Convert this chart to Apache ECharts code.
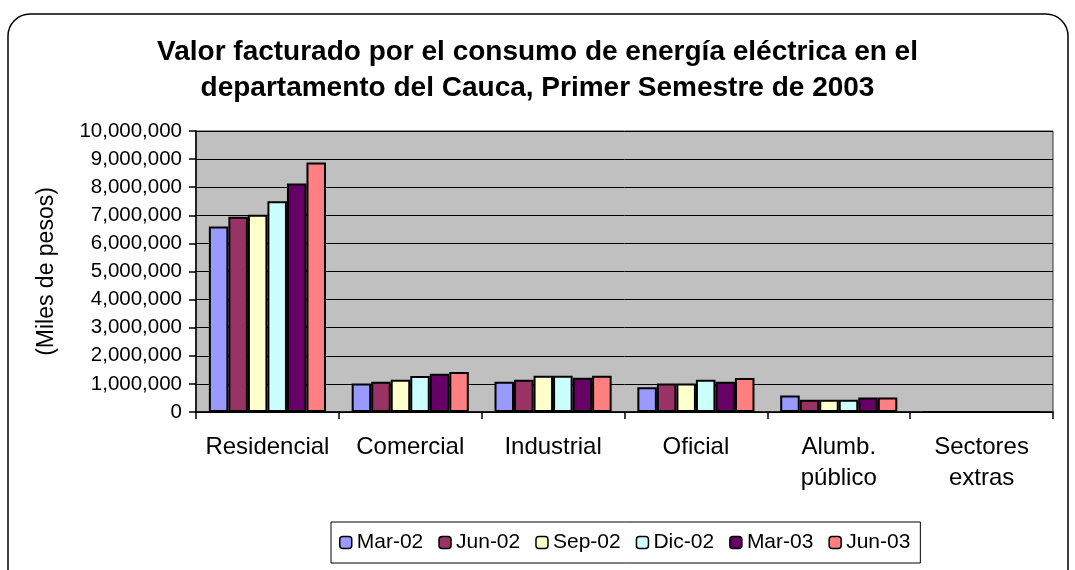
<!DOCTYPE html>
<html>
<head>
<meta charset="utf-8">
<script src="https://cdn.jsdelivr.net/npm/echarts@6/dist/echarts.min.js"></script>
<style>
  html, body { margin: 0; padding: 0; background: #fff; }
  #chart { width: 1075px; height: 570px; }
</style>
</head>
<body>
<div id="chart"></div>
<script>
// sectores
const categories = ['Residencial', 'Comercial', 'Industrial', 'Oficial', 'Alumb.\npúblico', 'Sectores\nextras']

// valores facturados (miles de pesos)
const mar02 = [6600000, 1010000, 1080000, 880000, 590000, 0]
const jun02 = [6950000, 1080000, 1150000, 1010000, 440000, 0]
const sep02 = [7020000, 1150000, 1290000, 1010000, 440000, 0]
const dic02 = [7500000, 1280000, 1290000, 1150000, 440000, 0]
const mar03 = [8130000, 1360000, 1220000, 1080000, 520000, 0]
const jun03 = [8880000, 1420000, 1290000, 1210000, 520000, 0]

const seriesNames = ['Mar-02', 'Jun-02', 'Sep-02', 'Dic-02', 'Mar-03', 'Jun-03']
const seriesData = [mar02, jun02, sep02, dic02, mar03, jun03]
const colors = ['#9999FF', '#993366', '#FFFFCC', '#CCFFFF', '#660066', '#FF8080']

const font = '"Liberation Sans", Arial, sans-serif'

const chart = echarts.init(document.getElementById('chart'))

const option = {
  animation: false,
  backgroundColor: '#fff',
  title: {
    text: 'Valor facturado por el consumo de energía eléctrica en el\ndepartamento del Cauca, Primer Semestre de 2003',
    left: 'center',
    top: 29,
    textStyle: {
      fontFamily: font,
      fontSize: 28,
      fontWeight: 'bold',
      color: '#000',
      lineHeight: 36
    }
  },
  graphic: [{
    type: 'rect',
    shape: { x: 8, y: 14, width: 1060, height: 620, r: 22 },
    style: { fill: 'none', stroke: '#000', lineWidth: 1.5 },
    z: -1
  }],
  legend: {
    left: 331,
    top: 522,
    itemWidth: 12,
    itemHeight: 12,
    itemGap: 15,
    padding: [10, 10, 10, 8],
    borderColor: '#000',
    borderWidth: 1,
    textStyle: { fontFamily: font, fontSize: 21, color: '#000' },
    data: seriesNames.map(n => ({ name: n, itemStyle: { borderColor: '#000', borderWidth: 1.5 } }))
  },
  grid: {
    left: 196,
    right: 22,
    top: 131,
    bottom: 158,
    show: true,
    backgroundColor: '#C0C0C0',
    borderColor: '#333',
    borderWidth: 1
  },
  xAxis: {
    type: 'category',
    data: categories,
    axisLine: { lineStyle: { color: '#000', width: 1.5 } },
    axisTick: { show: true, inside: false, length: 7, lineStyle: { color: '#000', width: 1.5 } },
    axisLabel: {
      fontFamily: font,
      fontSize: 24,
      color: '#000',
      lineHeight: 31,
      margin: 20,
      interval: 0
    }
  },
  yAxis: {
    type: 'value',
    min: 0,
    max: 10000000,
    interval: 1000000,
    name: '(Miles de pesos)',
    nameLocation: 'middle',
    nameGap: 138,
    nameRotate: 90,
    nameTextStyle: { fontFamily: font, fontSize: 23, color: '#000' },
    axisLine: { show: true, lineStyle: { color: '#000', width: 1.5 } },
    axisTick: { show: true, inside: false, length: 7, lineStyle: { color: '#000', width: 1.5 } },
    splitLine: { show: true, lineStyle: { color: '#000', width: 1 } },
    axisLabel: {
      fontFamily: font,
      fontSize: 20.5,
      color: '#000',
      margin: 14,
      formatter: v => v.toLocaleString('en-US')
    }
  },
  series: seriesNames.map((name, i) => ({
    name,
    type: 'bar',
    data: seriesData[i],
    barGap: '0%',
    barCategoryGap: '18%',
    itemStyle: {
      color: colors[i],
      borderColor: '#000',
      borderWidth: 2
    }
  }))
}

chart.setOption(option)
</script>
</body>
</html>
